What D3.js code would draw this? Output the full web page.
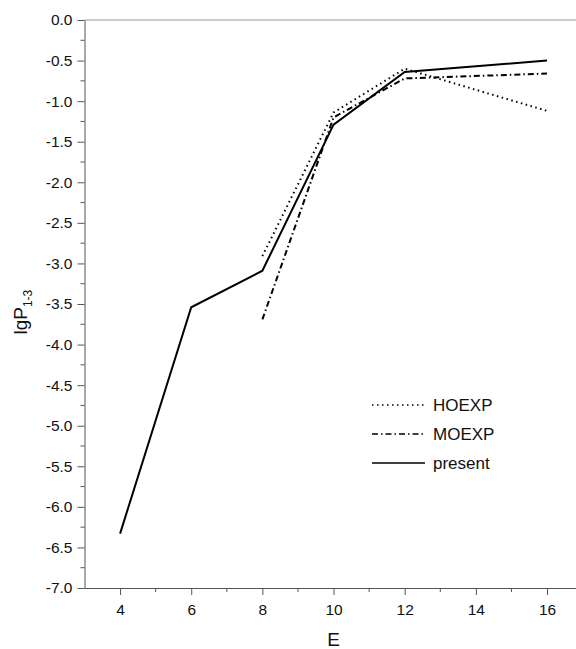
<!DOCTYPE html>
<html>
<head>
<meta charset="utf-8">
<script src="https://cdn.jsdelivr.net/npm/d3@7"></script>
<style>
  body { margin: 0; background: #fff; }
  svg { display: block; font-family: "Liberation Sans", Arial, sans-serif; }
</style>
</head>
<body>
<svg id="chart" width="576" height="649"></svg>
<script>
// energies E and lgP(1-3) values
const presentE = [4, 6, 8, 10, 12, 16];
const presentP = [-6.33, -3.54, -3.09, -1.29, -0.64, -0.50];
const hoexpE = [8, 10, 12, 16];
const hoexpP = [-2.91, -1.14, -0.60, -1.12];
const moexpE = [8, 10, 12, 16];
const moexpP = [-3.69, -1.20, -0.72, -0.66];

const xTicks = [4, 6, 8, 10, 12, 14, 16];
const yTicks = [0, -0.5, -1, -1.5, -2, -2.5, -3, -3.5, -4, -4.5, -5, -5.5, -6, -6.5, -7];

const series = [
  { name: "HOEXP", xs: hoexpE, ys: hoexpP, dash: "1.5,3.5" },
  { name: "MOEXP", xs: moexpE, ys: moexpP, dash: "6,3,1.5,3" },
  { name: "present", xs: presentE, ys: presentP, dash: null }
];

const svg = d3.select("#chart");
const x = d3.scaleLinear().domain([3, 17]).range([84.5, 582.6]);
const y = d3.scaleLinear().domain([-7, 0]).range([588, 20]);

// frame top line (faint)
svg.append("line")
  .attr("x1", x(3)).attr("x2", 576)
  .attr("y1", y(0)).attr("y2", y(0))
  .attr("stroke", "#999").attr("stroke-width", 1);

// x axis
const xAxis = svg.append("g").attr("transform", `translate(0,${y(-7)})`);
xAxis.call(d3.axisBottom(x).tickValues(xTicks).tickFormat(d3.format("d")).tickSize(7).tickSizeOuter(0))
  .call(g => g.select(".domain").attr("stroke", "#555"))
  .call(g => g.selectAll(".tick line").attr("stroke", "#555"))
  .call(g => g.selectAll(".tick text").attr("font-size", 15.5).attr("fill", "#111").attr("dy", "1.1em"));
xAxis.append("g").selectAll("line")
  .data(d3.range(5, 17, 2))
  .join("line")
  .attr("x1", d => x(d)).attr("x2", d => x(d))
  .attr("y1", 0).attr("y2", 4)
  .attr("stroke", "#555");

// y axis
const yAxis = svg.append("g").attr("transform", `translate(${x(3)},0)`);
yAxis.call(d3.axisLeft(y).tickValues(yTicks).tickFormat(d3.format(".1f")).tickSize(7).tickSizeOuter(0))
  .call(g => g.select(".domain").attr("stroke", "#555"))
  .call(g => g.selectAll(".tick line").attr("stroke", "#555"))
  .call(g => g.selectAll(".tick text").attr("font-size", 15.5).attr("fill", "#111").attr("x", -12)
    .text(d => d3.format(".1f")(d).replace("−", "-")));
yAxis.append("g").selectAll("line")
  .data(d3.range(-6.75, 0, 0.5))
  .join("line")
  .attr("x1", 0).attr("x2", -4)
  .attr("y1", d => y(d)).attr("y2", d => y(d))
  .attr("stroke", "#555");

// lines
const line = d3.line().x(d => x(d[0])).y(d => y(d[1]));
series.forEach(s => {
  svg.append("path")
    .datum(s.xs.map((v, i) => [v, s.ys[i]]))
    .attr("fill", "none")
    .attr("stroke", "#000")
    .attr("stroke-width", 2)
    .attr("stroke-dasharray", s.dash)
    .attr("d", line);
});

// legend
const legend = svg.append("g").attr("transform", "translate(372,405)");
series.forEach((s, i) => {
  const g = legend.append("g").attr("transform", `translate(0,${i * 29})`);
  g.append("line")
    .attr("x1", 0).attr("x2", 53).attr("y1", 0).attr("y2", 0)
    .attr("stroke", "#000").attr("stroke-width", 1.5)
    .attr("stroke-dasharray", s.dash);
  g.append("text")
    .attr("x", 61).attr("y", 0).attr("dy", "0.36em")
    .attr("font-size", 17).attr("fill", "#111")
    .text(s.name);
});

// axis titles
svg.append("text")
  .attr("x", x(10)).attr("y", 646)
  .attr("text-anchor", "middle")
  .attr("font-size", 19).attr("fill", "#111")
  .text("E");

const yt = svg.append("text")
  .attr("transform", `translate(27,${y(-3.6)}) rotate(-90)`)
  .attr("text-anchor", "middle")
  .attr("font-size", 19).attr("fill", "#111");
yt.append("tspan").text("lgP");
yt.append("tspan").attr("font-size", 12).attr("dy", 5).text("1-3");
</script>
</body>
</html>
